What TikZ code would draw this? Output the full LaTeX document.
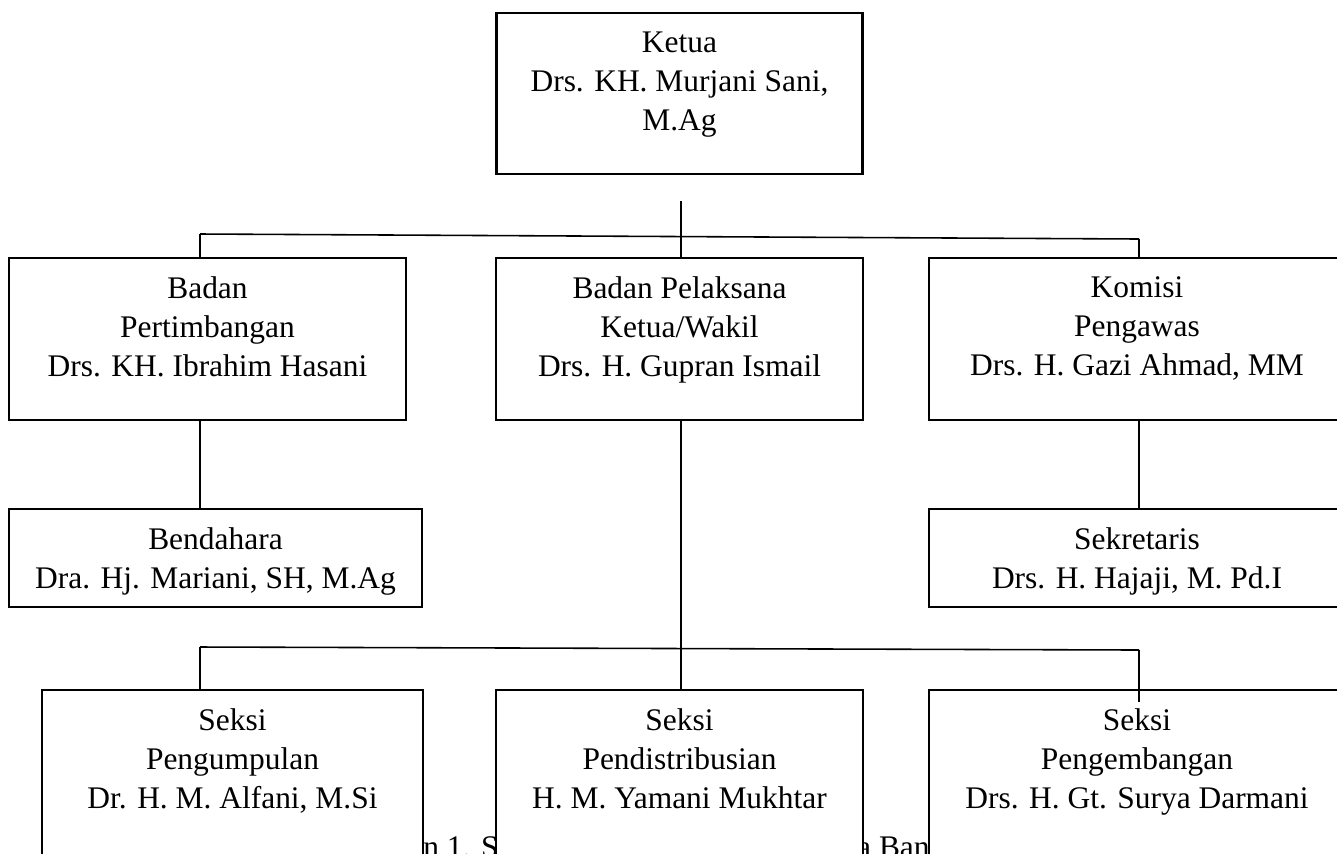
\documentclass[tikz,border=0pt]{standalone}
\usepackage{fontspec}
\setmainfont{Liberation Serif}
\usetikzlibrary{positioning}

\tikzset{
    box/.style={draw, fill=white, line width=1.2pt, inner sep=0pt},
    txt/.style={align=center, inner sep=0pt, font=\fontsize{17.9}{22.3}\selectfont},
    conn/.style={line width=0.9pt}
}

\begin{document}
\begin{tikzpicture}[x=0.02cm, y=-0.02cm]
    \useasboundingbox (0,0) rectangle (1337,853);
    \clip (0,0) rectangle (1337,853);

    % Caption pieces showing between the bottom boxes
    \node[txt, anchor=base west] (capl) at (423,857) {n 1. S};
    \node[txt, anchor=base east] (capr) at (930,857) {a Ban};

    % Boxes
    \node[box, minimum width=7.32cm, minimum height=3.22cm] (ketua) at (679.5,93.5) {};
    \node[box, minimum width=7.94cm, minimum height=3.24cm] (pertimbangan) at (207.5,339) {};
    \node[box, minimum width=7.34cm, minimum height=3.24cm] (pelaksana) at (679.5,339) {};
    \node[box, minimum width=8.32cm, minimum height=3.24cm] (komisi) at (1137,339) {};
    \node[box, minimum width=8.26cm, minimum height=1.96cm] (bendahara) at (215.5,558) {};
    \node[box, minimum width=8.32cm, minimum height=1.96cm] (sekretaris) at (1137,558) {};
    \node[box, minimum width=7.62cm, minimum height=3.6cm] (pengumpulan) at (232.5,780) {};
    \node[box, minimum width=7.34cm, minimum height=3.6cm] (pendistribusian) at (679.5,780) {};
    \node[box, minimum width=8.32cm, minimum height=3.6cm] (pengembangan) at (1137,780) {};

    % Texts in the boxes
    \node[txt, below=11pt of ketua.north] (ketua-t) {Ketua\\Drs. KH. Murjani Sani,\\M.Ag};
    \node[txt, below=11pt of pertimbangan.north] (pertimbangan-t) {Badan\\Pertimbangan\\Drs. KH. Ibrahim Hasani};
    \node[txt, below=11pt of pelaksana.north] (pelaksana-t) {Badan Pelaksana\\Ketua/Wakil\\Drs. H. Gupran Ismail};
    \node[txt, below=11pt of komisi.north] (komisi-t) {Komisi\\Pengawas\\Drs. H. Gazi Ahmad, MM};
    \node[txt, below=11pt of bendahara.north] (bendahara-t) {Bendahara\\Dra. Hj. Mariani, SH, M.Ag};
    \node[txt, below=11pt of sekretaris.north] (sekretaris-t) {Sekretaris\\Drs. H. Hajaji, M. Pd.I};
    \node[txt, below=11pt of pengumpulan.north] (pengumpulan-t) {Seksi\\Pengumpulan\\Dr. H. M. Alfani, M.Si};
    \node[txt, below=11pt of pendistribusian.north] (pendistribusian-t) {Seksi\\Pendistribusian\\H. M. Yamani Mukhtar};
    \node[txt, below=11pt of pengembangan.north] (pengembangan-t) {Seksi\\Pengembangan\\Drs. H. Gt. Surya Darmani};

    % Joints of the lines
    \coordinate (top) at (681,201);
    \coordinate (hl) at (200,234);
    \coordinate (hr) at (1139,239);
    \coordinate (bl) at (200,647);
    \coordinate (br) at (1139,650);
    \coordinate (brend) at (1139,702);

    % Upper lines
    \draw[conn] (top) -- (top |- pelaksana.north);
    \draw[conn] (hl) -- (hr);
    \draw[conn] (hl) -- (hl |- pertimbangan.north);
    \draw[conn] (hr) -- (hr |- komisi.north);
    \draw[conn] (hl |- pertimbangan.south) -- (hl |- bendahara.north);
    \draw[conn] (hr |- komisi.south) -- (hr |- sekretaris.north);

    % Lower lines
    \draw[conn] (top |- pelaksana.south) -- (top |- pendistribusian.north);
    \draw[conn] (bl) -- (br);
    \draw[conn] (bl) -- (bl |- pengumpulan.north);
    \draw[conn] (br) -- (brend);
\end{tikzpicture}
\end{document}
